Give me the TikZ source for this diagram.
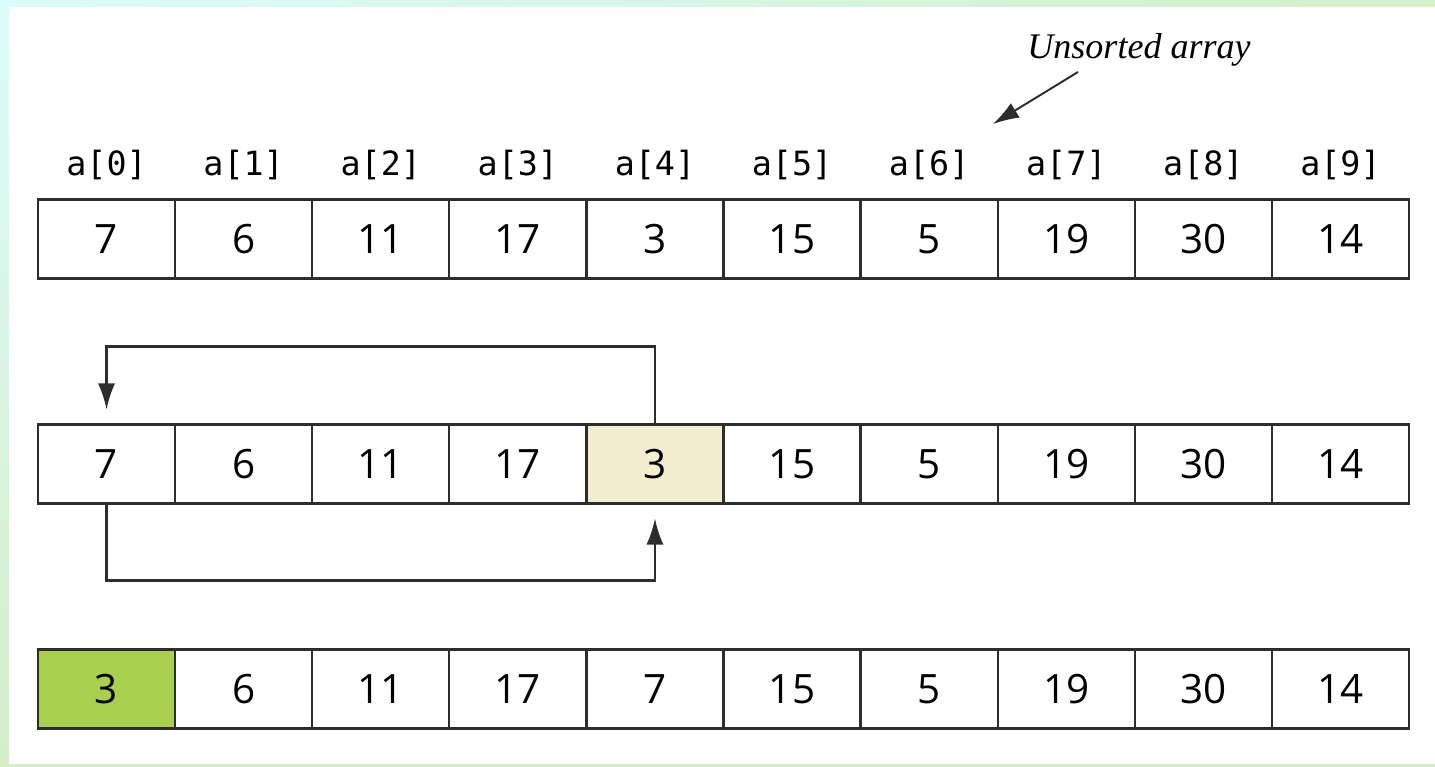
\documentclass[tikz,border=0pt]{standalone}
\usepackage{fontspec}
\usepackage{tikz}
\usetikzlibrary{arrows.meta, positioning, shadings}
\newfontfamily\numsans{Open Sans}
\newfontfamily\idxmono{DejaVu Sans Mono}
\newfontfamily\notefont{Liberation Serif}
\definecolor{linegray}{RGB}{45,45,45}
\definecolor{pickyellow}{RGB}{242,238,207}
\definecolor{placedgreen}{RGB}{168,207,80}
\definecolor{edgecyan}{RGB}{220,252,252}
\definecolor{edgegreen}{RGB}{212,238,200}
\tikzset{
>={Latex[length=0.52cm,width=0.34cm]}, % long narrow arrow heads
node distance=2.742cm, % centre to centre distance of two array slots
cell/.style={draw=linegray, line width=1.3pt, minimum width=2.742cm, minimum height=1.58cm, inner sep=0pt, outer sep=0pt, font=\fontsize{23pt}{27pt}\selectfont\numsans}, % one slot of the array
index/.style={inner sep=0pt, font=\fontsize{19pt}{22pt}\selectfont\idxmono}, % the a[i] captions
}
\tikzset{
  picked/.append style={cell, fill=pickyellow},
  placed/.append style={cell, fill=placedgreen}
}

\begin{document}
\begin{tikzpicture}
      \useasboundingbox (0,0) rectangle (28.7,-15.34);
      \shade[upper left=edgecyan, upper right=edgegreen, lower left=edgegreen, lower right=edgegreen] (0,0) rectangle (28.7,-15.34);
      \fill[white] (0.18,-0.14) rectangle (28.7,-15.28);

      % unsorted array
      \node[cell] (t0) at (2.131,-4.78) {7};
      \node[cell, right of=t0] (t1) {6};
      \node[cell, right of=t1] (t2) {11};
      \node[cell, right of=t2] (t3) {17};
      \node[cell, right of=t3] (t4) {3};
      \node[cell, right of=t4] (t5) {15};
      \node[cell, right of=t5] (t6) {5};
      \node[cell, right of=t6] (t7) {19};
      \node[cell, right of=t7] (t8) {30};
      \node[cell, right of=t8] (t9) {14};
      \node[index, above=0.38cm of t0] (i0) {a[0]};
      \node[index, above=0.38cm of t1] (i1) {a[1]};
      \node[index, above=0.38cm of t2] (i2) {a[2]};
      \node[index, above=0.38cm of t3] (i3) {a[3]};
      \node[index, above=0.38cm of t4] (i4) {a[4]};
      \node[index, above=0.38cm of t5] (i5) {a[5]};
      \node[index, above=0.38cm of t6] (i6) {a[6]};
      \node[index, above=0.38cm of t7] (i7) {a[7]};
      \node[index, above=0.38cm of t8] (i8) {a[8]};
      \node[index, above=0.38cm of t9] (i9) {a[9]};

      \node[font=\fontsize{20.5pt}{24pt}\selectfont\notefont\itshape] (note) at (22.78,-1.0) {Unsorted array};
      \coordinate (notefrom) at (21.56,-1.44);
      \coordinate (noteto) at (19.86,-2.48);
      \draw[->, line width=1.1pt, linegray] (notefrom) -- (noteto);

      % smallest value found
      \node[cell] (m0) at (2.131,-9.28) {7};
      \node[cell, right of=m0] (m1) {6};
      \node[cell, right of=m1] (m2) {11};
      \node[cell, right of=m2] (m3) {17};
      \node[picked, right of=m3] (m4) {3};
      \node[cell, right of=m4] (m5) {15};
      \node[cell, right of=m5] (m6) {5};
      \node[cell, right of=m6] (m7) {19};
      \node[cell, right of=m7] (m8) {30};
      \node[cell, right of=m8] (m9) {14};

      \draw[->, line width=1.3pt, linegray, shorten >=0.3cm] (m4.north) -- ++(0,1.56) -| (m0.north);
      \draw[->, line width=1.3pt, linegray, shorten >=0.3cm] (m0.south) -- ++(0,-1.54) -| (m4.south);

      % after the swap
      \node[placed] (b0) at (2.131,-13.78) {3};
      \node[cell, right of=b0] (b1) {6};
      \node[cell, right of=b1] (b2) {11};
      \node[cell, right of=b2] (b3) {17};
      \node[cell, right of=b3] (b4) {7};
      \node[cell, right of=b4] (b5) {15};
      \node[cell, right of=b5] (b6) {5};
      \node[cell, right of=b6] (b7) {19};
      \node[cell, right of=b7] (b8) {30};
      \node[cell, right of=b8] (b9) {14};
\end{tikzpicture}
\end{document}
